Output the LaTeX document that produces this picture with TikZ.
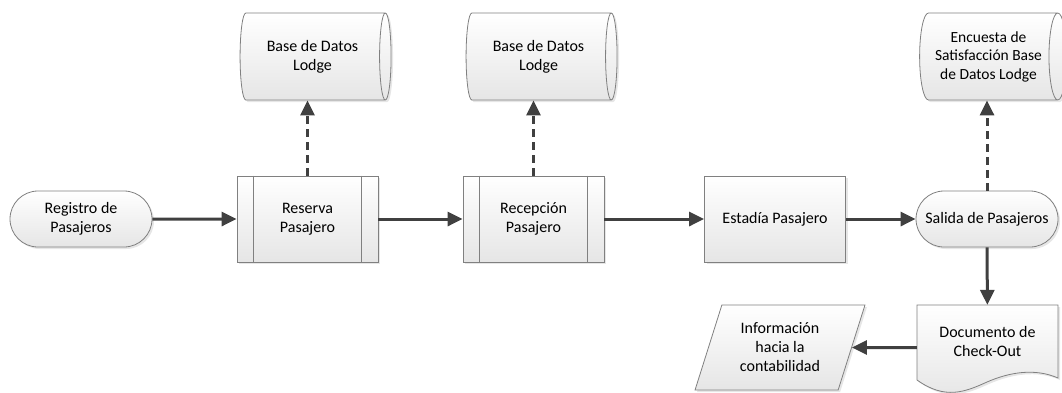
\documentclass[tikz,border=0pt]{standalone}
\usepackage{fontspec}
\setmainfont{Carlito}
\usetikzlibrary{arrows.meta,shapes.geometric,shapes.misc,shadows}
\definecolor{arr}{HTML}{404040}
\definecolor{edgec}{HTML}{808080}
\tikzset{
  base/.style={draw=edgec, line width=0.8pt, top color=white, bottom color=gray!20,
    drop shadow={opacity=0.2,shadow xshift=2pt,shadow yshift=-2pt},
    font=\fontsize{16}{19}\selectfont, align=center, text=black},
  term/.style={base, rounded rectangle, minimum width=142pt, minimum height=56pt, inner sep=0pt},
  proc/.style={base, rectangle, minimum width=141pt, minimum height=86pt, inner sep=0pt},
  db/.style={base, cylinder, shape aspect=0.35, minimum height=151pt, minimum width=87pt, inner sep=0pt},
  para/.style={base, trapezium, trapezium left angle=69.4, trapezium right angle=110.6,
    trapezium stretches=true, minimum width=170pt, minimum height=85pt, inner sep=0pt},
  docbox/.style={rectangle, minimum width=141pt, minimum height=85pt, inner sep=0pt},
  txt/.style={font=\fontsize{16}{19}\selectfont, align=center, text=black},
  inner/.style={draw=edgec, line width=0.8pt},
  flow/.style={draw=arr, line width=3pt, -{Triangle[length=15pt,width=14pt]}},
  dflow/.style={flow, dash pattern=on 8pt off 5pt},
}
\begin{document}
\begin{tikzpicture}[x=1pt,y=-1pt]
\useasboundingbox (0,0) rectangle (1062,392);
% databases
\node[db] (db1) at (312.5,56.5) {Base de Datos\\Lodge};
\node[db] (db2) at (538.5,56.5) {Base de Datos\\Lodge};
\node[db, minimum height=147pt, font=\fontsize{15.5}{18.5}\selectfont] (db3) at (988.5,56.5) {Encuesta de\\Satisfacción Base\\de Datos Lodge};
% main row
\node[term] (reg) at (81,219) {Registro de\\Pasajeros};
\node[proc] (res) at (307.5,219) {Reserva\\Pasajero};
\node[proc] (rec) at (533.5,219) {Recepción\\Pasajero};
\node[proc] (est) at (775,219) {Estadía Pasajero};
\node[term] (sal) at (987,219) {Salida de Pasajeros};
\foreach \n in {res,rec}{
  \draw[inner] ([xshift=17pt]\n.north west) -- ([xshift=17pt]\n.south west);
  \draw[inner] ([xshift=-17pt]\n.north east) -- ([xshift=-17pt]\n.south east);
}
% document
\node[docbox] (doc) at (987.5,347.5) {};
\path[base] (917,305) -- (1058,305) -- (1058,378)
  .. controls (1035,368) and (1010,372) .. (987,382)
  .. controls (965,392) and (945,400) .. (917,380) -- cycle;
\node[txt] (doct) at (987.5,341) {Documento de\\Check-Out};
% parallelogram
\node[para] (info) at (780,347.5) {Información\\hacia la\\contabilidad};
% connectors
\draw[flow] (reg) -- (res);
\draw[flow] (res) -- (rec);
\draw[flow] (rec) -- (est);
\draw[flow] (est) -- (sal);
\draw[flow] (sal) -- (doc);
\draw[flow] (doc.west) -- (info.east);
\draw[dflow] (res.north) -- (res.north |- db1.south);
\draw[dflow] (rec.north) -- (rec.north |- db2.south);
\draw[dflow] (sal.north) -- (sal.north |- db3.south);
\end{tikzpicture}
\end{document}
